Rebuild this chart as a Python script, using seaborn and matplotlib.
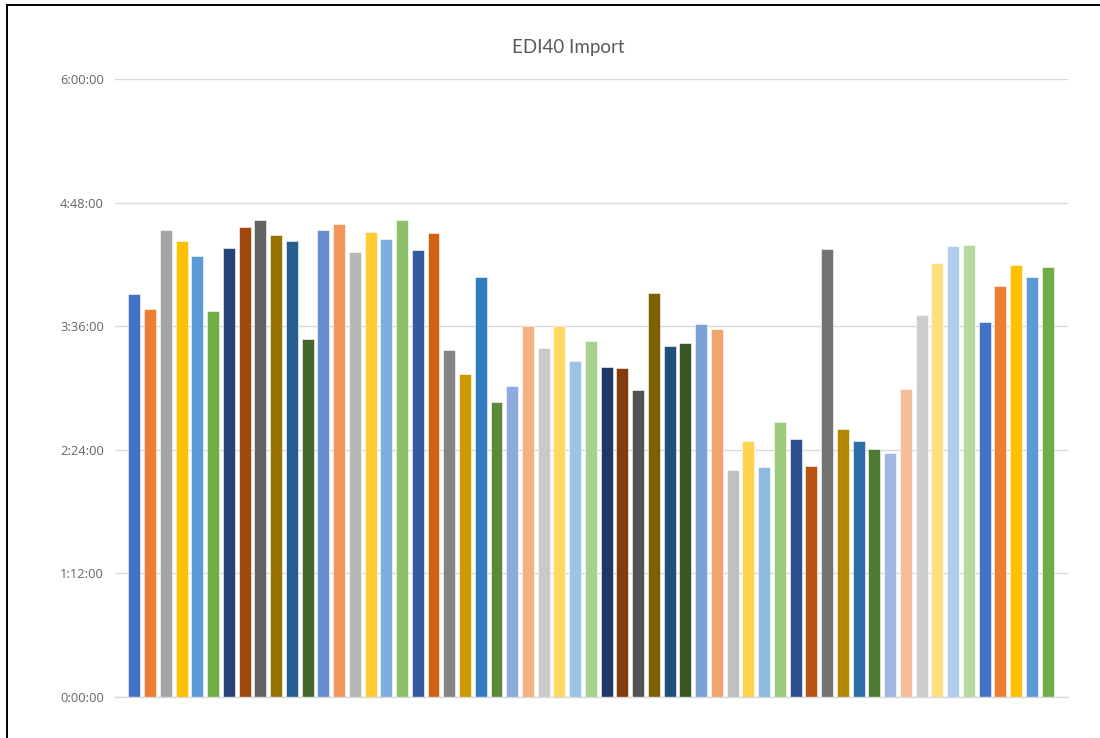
import matplotlib
matplotlib.use("Agg")
import matplotlib.pyplot as plt
from matplotlib.lines import Line2D
import seaborn as sns
import pandas as pd

# Import runs: duration of each run in minutes
runs = [f"Run {i}" for i in range(1, 60)]
minutes = [
    234.5, 226.1, 271.9, 265.4, 256.7, 224.7,
    261.5, 273.8, 277.8, 269.3, 265.4, 208.8,
    271.9, 275.8, 259.3, 271.1, 266.6, 277.8,
    260.1, 270.5, 201.9, 188.3, 244.9, 172.0,
    181.3, 215.9, 203.5, 215.9, 196.0, 207.2,
    192.5, 191.7, 179.1, 235.3, 204.7, 206.4,
    217.0, 214.5, 132.1, 149.0, 134.1, 160.0,
    150.4, 134.7, 260.7, 156.1, 149.0, 144.3,
    141.9, 179.7, 222.7, 252.8, 262.6, 263.4,
    218.2, 239.6, 251.4, 244.4, 250.3,
]
bar_colors = [
    "#4472C4", "#ED7D31", "#A5A5A5", "#FFC000", "#5B9BD5", "#70AD47",
    "#264478", "#9E480E", "#636363", "#997300", "#255E91", "#43682B",
    "#698ED0", "#F1975A", "#B7B7B7", "#FFCD33", "#7CAFDD", "#8CC168",
    "#335AA1", "#D26012", "#848484", "#CC9A00", "#327DC2", "#5A8A39",
    "#8FAADC", "#F4B183", "#C9C9C9", "#FFD966", "#9DC3E6", "#A9D18E",
    "#203864", "#843C0C", "#525252", "#7F6000", "#1F4E79", "#385723",
    "#7C9FD5", "#F1A46E", "#C0C0C0", "#FFD34D", "#8DB9E2", "#9BCA7C",
    "#2E5090", "#B85412", "#737373", "#B38600", "#2E6EA8", "#4E7A32",
    "#A2B8E1", "#F5BE99", "#CDCDCD", "#FFDF80", "#B0CDEA", "#B7D9A0",
    "#4472C4", "#ED7D31", "#FFC000", "#5B9BD5", "#70AD47",
]
tick_minutes = [0, 72, 144, 216, 288, 360]
tick_labels = ["0:00:00", "1:12:00", "2:24:00", "3:36:00", "4:48:00", "6:00:00"]
title = "EDI40 Import"

df = pd.DataFrame({"run": runs, "minutes": minutes})

sns.set_theme(style="white")
plt.rcParams["font.family"] = ["Open Sans", "DejaVu Sans"]

fig = plt.figure(figsize=(11, 7.38), dpi=100)
ax = fig.add_axes([115 / 1100, 1 - 697 / 738, (1068 - 115) / 1100, (697 - 79) / 738])

sns.barplot(
    data=df, x="run", y="minutes", hue="run", palette=bar_colors,
    legend=False, width=0.76, saturation=1, ax=ax, zorder=2,
    edgecolor="white", linewidth=0.4,
)

ax.set_xlim(-1.23, 59.3)
ax.set_ylim(0, 360)
ax.set_yticks(tick_minutes)
ax.set_yticklabels(tick_labels)
ax.set_xticks([])
ax.set_xlabel("")
ax.set_ylabel("")
ax.tick_params(axis="y", length=0, pad=8, labelsize=9.3, labelcolor="#666666")
ax.yaxis.grid(True, color="#d9d9d9", linewidth=1)
ax.set_axisbelow(True)
for side in ["top", "right", "left"]:
    ax.spines[side].set_visible(False)
ax.spines["bottom"].set_color("#d9d9d9")
ax.spines["bottom"].set_linewidth(1)

fig.text(568 / 1100, 1 - 48 / 738, title, ha="center", va="center",
         fontsize=13.5, color="#595959", family=["Lato", "DejaVu Sans"])

# chart frame edges
fig.add_artist(Line2D([7 / 1100, 1], [1 - 5 / 738, 1 - 5 / 738],
                      color="black", linewidth=1.4, transform=fig.transFigure))
fig.add_artist(Line2D([7 / 1100, 7 / 1100], [0, 1 - 5 / 738],
                      color="black", linewidth=1.4, transform=fig.transFigure))

fig.savefig("out.png", dpi=100, facecolor="white")
